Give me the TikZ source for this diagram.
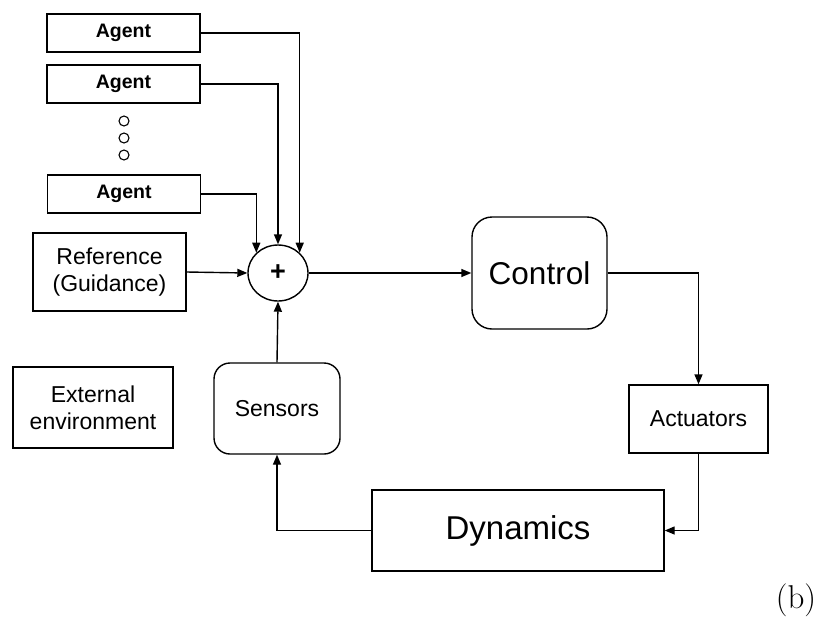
\documentclass[tikz,border=0pt]{standalone}
\usepackage{fontspec}
\setmainfont{Liberation Sans}
\newfontfamily\lmfont{Latin Modern Roman}
\usetikzlibrary{arrows.meta,shapes.geometric}

\tikzset{
  blk/.style={draw, line width=1.4pt, inner sep=0pt, align=center,
              font=\fontsize{23}{27}\selectfont},
  agentbox/.style={blk, minimum width=153pt, minimum height=38pt,
              font=\fontsize{19.5}{21}\selectfont\bfseries},
  roundbox/.style={blk, rounded corners=16pt},
  dotmark/.style={draw, circle, line width=1.1pt, minimum size=10pt, inner sep=0pt},
  conn/.style={line width=1.4pt, -{Triangle[length=10pt,width=8pt]}},
}

\begin{document}
\begin{tikzpicture}[x=1pt, y=-1pt]
\useasboundingbox (0,0) rectangle (821,619);

% agents and the elided ones in between
\node[agentbox] (a1) at (123.5,33) {Agent};
\node[agentbox] (a2) at (123.5,84) {Agent};
\node[dotmark] (d1) at (124,121) {};
\node[dotmark] (d2) at (124,138) {};
\node[dotmark] (d3) at (124,155) {};
\node[agentbox] (a3) at (124,194) {Agent};

% reference input and summing junction
\node[blk, minimum width=153pt, minimum height=78pt] (ref) at (109.5,272) {Reference\\(Guidance)};
\node[draw, ellipse, line width=1.4pt, minimum width=60pt, minimum height=56pt, inner sep=0pt,
      font=\fontsize{27}{28}\selectfont\bfseries] (sum) at (278,273) {+};

% loop blocks
\node[roundbox, font=\fontsize{31.5}{34}\selectfont, rounded corners=20pt, minimum width=135pt, minimum height=112pt] (ctrl) at (539.5,273) {Control};
\node[blk, minimum width=139pt, minimum height=68pt] (act) at (698.5,419) {Actuators};
\node[blk, font=\fontsize{33}{36}\selectfont, minimum width=292pt, minimum height=81pt] (dyn) at (518,530.5) {Dynamics};
\node[roundbox, minimum width=126pt, minimum height=91pt] (sens) at (277,408.5) {Sensors};
\node[blk, minimum width=160pt, minimum height=81pt] (env) at (93,407.5) {External\\environment};

% sub-figure tag
\node[font=\lmfont\fontsize{33}{34}\selectfont] (tag) at (796,600) {(b)};

% agent inputs
\draw[conn] (a1.east) -| (sum.north east);
\draw[conn] (a2.east) -| (sum.north);
\draw[conn] (a3.east) -| (sum.north west);
\draw[conn] (ref.east) -- (sum.west);

% control loop
\draw[conn] (sum.east) -- (ctrl.west);
\draw[conn] (ctrl.east) -| (act.north);
\draw[conn] (act.south) |- (dyn.east);
\draw[conn] (dyn.west) -| (sens.south);
\draw[conn] (sens.north) -- (sum.south);
\end{tikzpicture}
\end{document}
